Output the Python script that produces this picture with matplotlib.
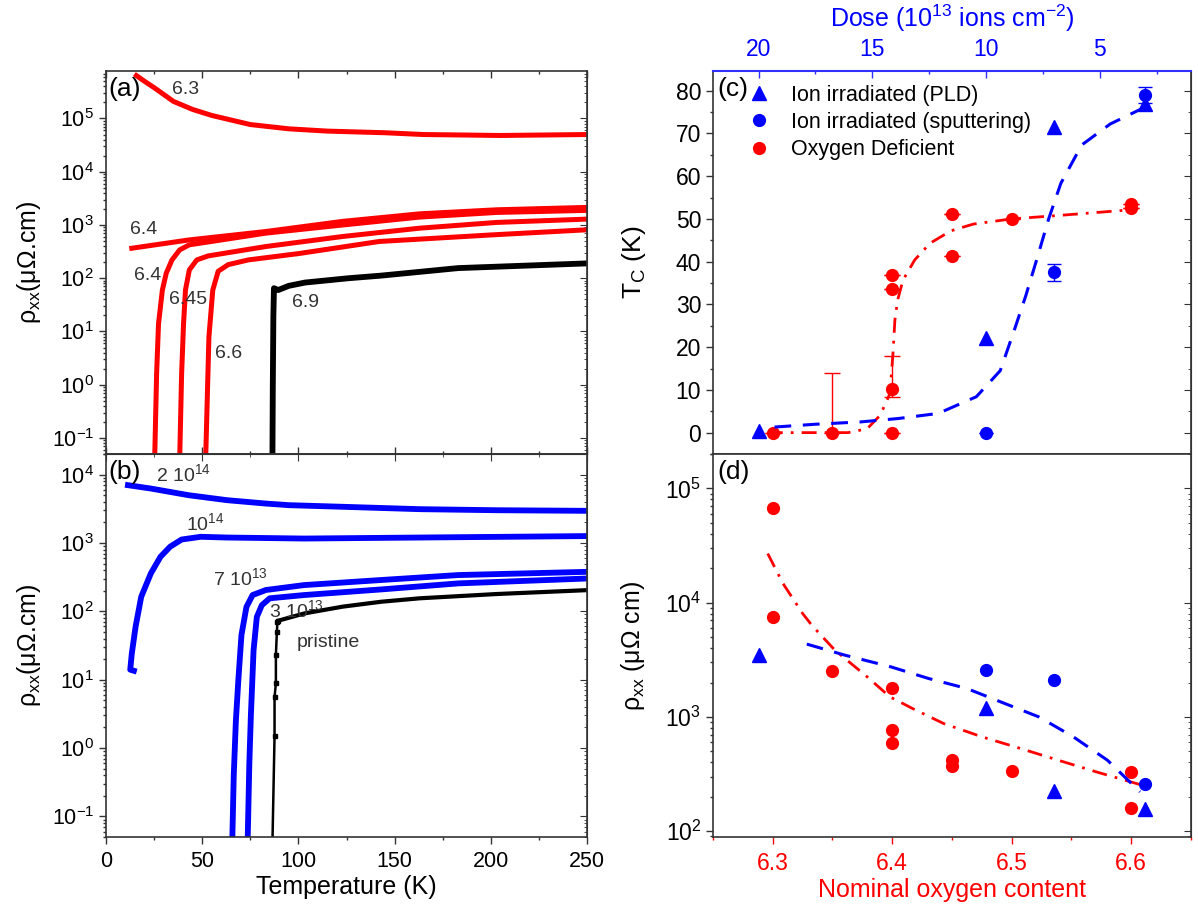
import matplotlib
matplotlib.use("Agg")
import matplotlib.pyplot as plt
from matplotlib.ticker import MultipleLocator, FixedLocator

plt.rcParams['font.family'] = ['Liberation Sans', 'DejaVu Sans']
plt.rcParams['mathtext.fontset'] = 'custom'
plt.rcParams['mathtext.rm'] = 'Liberation Sans'
plt.rcParams['mathtext.it'] = 'Liberation Sans:italic'
plt.rcParams['mathtext.default'] = 'regular'

## R(T) curves, oxygen deficient films (a)
T_63 = [15.8, 20, 25, 35, 45, 55, 75, 95, 115, 145, 165, 205, 250]
R_63 = [6.4e5, 5.0e5, 3.8e5, 2.1e5, 1.48e5, 1.14e5, 7.7e4, 6.4e4, 5.8e4, 5.4e4, 5.0e4, 4.8e4, 5.0e4]
T_64a = [13.4, 43.3, 83.1, 123, 163, 203, 250]
R_64a = [366, 525, 755, 1170, 1620, 1930, 2140]
T_64b = [25.3, 26.3, 27.3, 29.3, 31.3, 34.3, 38.3, 43.3, 83.1, 123, 163, 203, 250]
R_64b = [0.04, 1.6, 14, 60, 124, 221, 341, 424, 703, 1000, 1407, 1720, 1880]
T_645 = [38.3, 39.3, 40.3, 41.3, 43.3, 47.2, 53.2, 83.1, 123, 163, 203, 250]
R_645 = [0.04, 1.6, 14, 60, 143, 221, 263, 394, 608, 871, 1117, 1290]
T_66 = [51.8, 52.6, 53.5, 55.5, 58.3, 63.5, 74, 100, 142, 200, 250]
R_66 = [0.04, 0.5, 8, 60, 135, 180, 221, 290, 490, 650, 813]
T_69 = [86.5, 86.7, 87.0, 87.3, 89.5, 95, 103.5, 126, 143, 183, 250]
R_69 = [0.04, 1, 20, 65, 60, 72, 83, 100, 112, 155, 190]

## R(T) curves, ion irradiated films (b)
T_2e14 = [11.4, 23.3, 43, 63, 83, 95, 123, 163, 203, 250]
R_2e14 = [7000, 6250, 4990, 4220, 3770, 3570, 3380, 3120, 3010, 2950]
T_1e14 = [14.5, 12.6, 13.4, 15.4, 18.3, 23.3, 28.3, 33.3, 39.3, 49.2, 63, 103, 163, 250]
R_1e14 = [13.5, 14, 24, 60, 163, 358, 627, 879, 1123, 1230, 1200, 1160, 1200, 1260]
T_7e13 = [65.6, 66.4, 67.5, 68.8, 70.4, 73, 76.2, 83.1, 103, 143, 183, 250]
R_7e13 = [0.04, 0.4, 2.5, 10, 45, 116, 173, 205, 242, 287, 339, 378]
T_3e13 = [73.6, 74.5, 75.3, 76.7, 78.4, 81, 85.1, 103, 143, 183, 250]
R_3e13 = [0.04, 0.6, 3, 27, 83, 123, 155, 173, 209, 256, 302]
T_pr = [86.5, 87.6, 87.6, 88.3, 88.3, 88.8, 89.1, 89.6, 103, 123, 143, 163, 203, 250]
R_pr = [0.04, 1.5, 5.5, 8.9, 23, 49, 70, 73, 93, 117, 138, 155, 179, 204]

## Tc and rho vs oxygen content / dose (c, d)
OX_RED = [6.30, 6.35, 6.40, 6.40, 6.40, 6.40, 6.45, 6.45, 6.50, 6.60, 6.60]
TC_RED = [0, 0, 0, 10.1, 33.7, 36.8, 51.1, 41.4, 50.0, 53.5, 52.5]
TC_RED_LO = [0, 0, 0, 1.8, 0, 0, 0, 0, 0, 0, 0]
TC_RED_HI = [0, 14, 0, 7.8, 0, 0, 0, 0, 0, 0, 0]
OX_RED_RHO = [6.30, 6.30, 6.35, 6.40, 6.40, 6.40, 6.45, 6.45, 6.50, 6.60, 6.60]
RHO_RED = [68000, 7470, 2520, 1800, 776, 597, 418, 373, 337, 328, 160]

DOSE_PLD = [20, 10, 7, 3]
TC_PLD = [0.3, 22.2, 71.6, 76.8]
RHO_PLD = [3500, 1190, 225, 158]
DOSE_SPUT = [10, 7, 3]
TC_SPUT = [0, 37.5, 79]
TC_SPUT_ERR = [0, 2, 1.8]
RHO_SPUT = [2570, 2100, 261]

FIT_C_RED_OX = [6.2958, 6.3214, 6.363, 6.379, 6.39, 6.398, 6.4006, 6.4022, 6.4045, 6.409,
                6.4188, 6.4316, 6.449, 6.468, 6.5, 6.539, 6.571, 6.6026]
FIT_C_RED_TC = [0, 0, 0, 0.9, 4.1, 9.1, 18.5, 26.3, 31, 35.7, 40.4, 44.3, 47.2, 48.8, 50, 50.8, 51.5, 52.2]
FIT_C_BLUE_DOSE = [19.3, 17.54, 15.53, 13.86, 12.1, 10.43, 9.38, 8.8, 8.26, 7.76, 7.26, 6.72, 5.8, 4.55, 3.08]
FIT_C_BLUE_TC = [1.3, 1.95, 2.5, 3.3, 4.5, 8.4, 14.5, 23.4, 32.0, 40.8, 49.9, 58.3, 67.3, 72.2, 76.0]
FIT_D_RED_OX = [6.2958, 6.3086, 6.325, 6.3326, 6.352, 6.379, 6.398, 6.417, 6.443, 6.475, 6.503, 6.539, 6.571, 6.609]
FIT_D_RED_RHO = [26900, 14700, 8040, 6360, 3840, 2245, 1500, 1185, 876, 670, 547, 418, 330, 253]
FIT_D_BLUE_DOSE = [17.88, 16.2, 14.2, 12.53, 10.85, 9.18, 7.68, 6.17, 4.67, 3.24]
FIT_D_BLUE_RHO = [4340, 3470, 2750, 2170, 1774, 1311, 1000, 670, 418, 221]

SPINE = '#333333'
LBL = '#333333'
TICK_L = 15.5   # tick labels, left column
TICK_R = 16.5   # tick labels, right column
LAB_FS = 18
PANEL_FS = 19

fig = plt.figure(figsize=(11.98, 9.09), dpi=100)
W, H = 1198.0, 909.0
ax_a = fig.add_axes([106 / W, 1 - 454 / H, 481 / W, 383 / H])
ax_b = fig.add_axes([106 / W, 1 - 837 / H, 481 / W, 383 / H])
ax_c = fig.add_axes([713 / W, 1 - 454 / H, 478 / W, 383 / H])
ax_d = fig.add_axes([713 / W, 1 - 837 / H, 478 / W, 383 / H])


def base_style(ax, fs):
    for s in ax.spines.values():
        s.set_color(SPINE)
        s.set_linewidth(1.2)
    ax.tick_params(which='both', colors=SPINE, labelcolor='black', labelsize=fs, width=1)
    ax.tick_params(which='major', length=5)
    ax.tick_params(which='minor', length=2.5)
    ax.tick_params(axis='y', which='both', direction='out', right=False)


def right_ticks(ax, log=False):
    sec = ax.secondary_yaxis('right')
    sec.tick_params(which='both', direction='in', colors=SPINE, labelright=False)
    sec.tick_params(which='major', length=5)
    sec.tick_params(which='minor', length=2.5)
    sec.spines['right'].set_color(SPINE)
    if not log:
        sec.yaxis.set_major_locator(MultipleLocator(10))
        sec.yaxis.set_minor_locator(MultipleLocator(5))
    return sec


# ---------- (a) oxygen deficient ----------
ax = ax_a
base_style(ax, TICK_L)
ax.set_yscale('log')
for T, R in [(T_63, R_63), (T_64a, R_64a), (T_64b, R_64b), (T_645, R_645), (T_66, R_66)]:
    ax.plot(T, R, color='red', lw=3.6)
ax.plot(T_69, R_69, color='black', lw=4.2)
ax.set_xlim(0, 250)
ax.set_ylim(0.05, 7.8e5)
ax.xaxis.set_major_locator(MultipleLocator(50))
ax.xaxis.set_minor_locator(MultipleLocator(25))
ax.tick_params(axis='x', which='both', direction='in', top=True, bottom=True, labelbottom=False)
ax.set_ylabel('ρ$_{xx}$(μΩ.cm)', fontsize=LAB_FS, labelpad=6)
right_ticks(ax, log=True)
ax.text(0.005, 0.985, '(a)', transform=ax.transAxes, fontsize=PANEL_FS, va='top', ha='left')
for txt, x, y in [('6.3', 41.3, 3.5e5), ('6.4', 19.3, 813), ('6.4', 21.7, 115),
                  ('6.45', 42.7, 40), ('6.6', 63.8, 3.9), ('6.9', 103.7, 34.8)]:
    ax.text(x, y, txt, fontsize=14, color=LBL, ha='center', va='center')

# ---------- (b) ion irradiated ----------
ax = ax_b
base_style(ax, TICK_L)
ax.set_yscale('log')
for T, R in [(T_2e14, R_2e14), (T_1e14, R_1e14), (T_7e13, R_7e13), (T_3e13, R_3e13)]:
    ax.plot(T, R, color='blue', lw=4.2)
ax.plot(T_pr, R_pr, color='black', lw=1.8, marker='s', ms=3.5, markevery=list(range(1, 8)))
ax.plot(T_pr[7:], R_pr[7:], color='black', lw=3.0)
ax.set_xlim(0, 250)
ax.set_ylim(0.05, 2e4)
ax.xaxis.set_major_locator(MultipleLocator(50))
ax.xaxis.set_minor_locator(MultipleLocator(25))
ax.tick_params(axis='x', which='both', direction='out', top=False, pad=5)
top = ax.secondary_xaxis('top')
top.tick_params(which='both', direction='in', colors=SPINE, labeltop=False)
top.tick_params(which='major', length=5)
top.tick_params(which='minor', length=2.5)
top.xaxis.set_major_locator(MultipleLocator(50))
top.xaxis.set_minor_locator(MultipleLocator(25))
top.spines['top'].set_color(SPINE)
ax.set_xlabel('Temperature (K)', fontsize=LAB_FS, labelpad=2)
ax.set_ylabel('ρ$_{xx}$(μΩ.cm)', fontsize=LAB_FS, labelpad=6)
right_ticks(ax, log=True)
ax.text(0.005, 0.985, '(b)', transform=ax.transAxes, fontsize=PANEL_FS, va='top', ha='left')
for txt, x, y in [('2 10$^{14}$', 40.3, 1.0e4), ('10$^{14}$', 51.7, 1920), ('7 10$^{13}$', 69.8, 303),
                  ('3 10$^{13}$', 99, 104), ('pristine', 115.8, 35)]:
    ax.text(x, y, txt, fontsize=14, color=LBL, ha='center', va='center')

# ---------- (c) Tc ----------
ax = ax_c
base_style(ax, TICK_R)
ax.set_xlim(6.25, 6.65)
ax.set_ylim(-5, 84.6)
ax.yaxis.set_major_locator(MultipleLocator(10))
ax.yaxis.set_minor_locator(MultipleLocator(5))
ax.set_ylabel('T$_{C}$ (K)', fontsize=LAB_FS + 1, labelpad=20)
ax.plot(FIT_C_RED_OX, FIT_C_RED_TC, color='red', lw=2.0, ls=(0, (5.4, 2.9, 1, 2.9)))
ax.errorbar(OX_RED, TC_RED, yerr=[TC_RED_LO, TC_RED_HI], fmt='none', ecolor='red',
            elinewidth=1, capsize=6, capthick=1)
h_red, = ax.plot(OX_RED, TC_RED, 'o', color='red', ms=8.5, label='Oxygen Deficient')
ax.spines['top'].set_visible(False)

ax_ct = ax.twiny()
ax_ct.set_xlim(22, 1)
ax_ct.plot(FIT_C_BLUE_DOSE, FIT_C_BLUE_TC, color='blue', lw=2.2, ls=(0, (5.5, 3.8)))
ax_ct.errorbar(DOSE_SPUT, TC_SPUT, yerr=TC_SPUT_ERR, fmt='none', ecolor='blue',
               elinewidth=1, capsize=5, capthick=1)
h_pld, = ax_ct.plot(DOSE_PLD, TC_PLD, '^', color='blue', ms=10, label='Ion irradiated (PLD)')
h_sput, = ax_ct.plot(DOSE_SPUT, TC_SPUT, 'o', color='blue', ms=8.5, label='Ion irradiated (sputtering)')
for side in ['left', 'right', 'bottom']:
    ax_ct.spines[side].set_visible(False)
ax_ct.spines['top'].set_color('#3030ff')
ax_ct.spines['top'].set_linewidth(1.5)
ax_ct.xaxis.set_major_locator(FixedLocator([20, 15, 10, 5]))
ax_ct.xaxis.set_minor_locator(FixedLocator([17.5, 12.5, 7.5, 2.5]))
ax_ct.tick_params(axis='x', which='both', direction='in', colors='#3030ff', labelcolor='blue',
                  labelsize=TICK_R, width=1, pad=7)
ax_ct.tick_params(axis='x', which='major', length=5)
ax_ct.tick_params(axis='x', which='minor', length=2.5)
ax_ct.set_xlabel('Dose (10$^{13}$ ions cm$^{-2}$)', color='blue', fontsize=LAB_FS, labelpad=8)
ax.tick_params(axis='x', which='both', bottom=False, top=False, labelbottom=False)
right_ticks(ax)
ax_ct.legend(handles=[h_pld, h_sput, h_red], loc='upper left', bbox_to_anchor=(0.04, 1.0),
             frameon=False, fontsize=15.5, handletextpad=0.9, labelspacing=0.28,
             handlelength=1.2, borderaxespad=0.25)
ax.text(0.01, 0.985, '(c)', transform=ax.transAxes, fontsize=PANEL_FS, va='top', ha='left')

# ---------- (d) resistivity ----------
ax = ax_d
base_style(ax, TICK_R)
ax.set_yscale('log')
ax.set_xlim(6.25, 6.65)
ax.set_ylim(89, 2e5)
ax.plot(FIT_D_RED_OX, FIT_D_RED_RHO, color='red', lw=2.0, ls=(0, (5.4, 2.9, 1, 2.9)))
ax.plot(OX_RED_RHO, RHO_RED, 'o', color='red', ms=8.5)
ax.set_xticks([6.3, 6.4, 6.5, 6.6])
ax.xaxis.set_minor_locator(FixedLocator([6.25, 6.35, 6.45, 6.55, 6.65]))
ax.tick_params(axis='x', which='both', direction='out', colors='red', labelcolor='red', top=False, pad=6)
ax.set_xlabel('Nominal oxygen content', color='red', fontsize=LAB_FS, labelpad=2)
ax.set_ylabel('ρ$_{xx}$ (μΩ cm)', fontsize=LAB_FS, labelpad=13)

ax_dt = ax.twiny()
ax_dt.set_xlim(22, 1)
ax_dt.plot(FIT_D_BLUE_DOSE, FIT_D_BLUE_RHO, color='blue', lw=2.2, ls=(0, (5.5, 3.8)))
ax_dt.plot(DOSE_PLD, RHO_PLD, '^', color='blue', ms=10)
ax_dt.plot(DOSE_SPUT, RHO_SPUT, 'o', color='blue', ms=8.5)
ax_dt.xaxis.set_visible(False)
for side in ['left', 'right', 'bottom', 'top']:
    ax_dt.spines[side].set_visible(False)
ax.tick_params(axis='x', which='both', bottom=True, top=False)
right_ticks(ax, log=True)
ax.text(0.01, 0.985, '(d)', transform=ax.transAxes, fontsize=PANEL_FS, va='top', ha='left')

fig.savefig('out.png', dpi=100)
